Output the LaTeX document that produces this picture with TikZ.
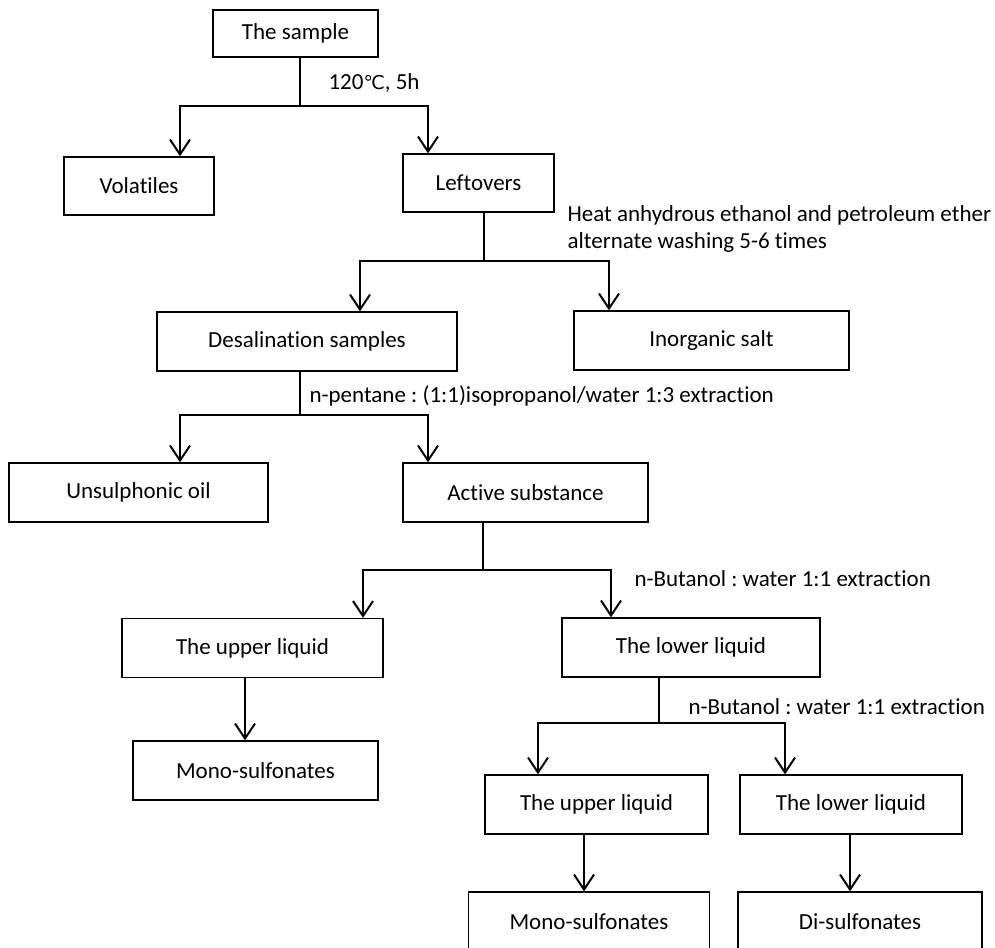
\documentclass[tikz,border=0pt]{standalone}
\usepackage{fontspec}
\setmainfont{Carlito}[Ligatures=NoCommon]
\newfontfamily\symfont{DejaVu Sans}
\usetikzlibrary{arrows.meta}
\frenchspacing

\begin{document}
\begin{tikzpicture}[
      x=1pt, y=-1pt,
      box/.style={rectangle, draw, line width=1.3pt, minimum height=59pt,
                  font=\fontsize{23}{27}\selectfont},
      note/.style={anchor=west, align=left, font=\fontsize{23}{27}\selectfont},
      link/.style={line width=2pt},
      arr/.style={line width=2pt,
                  -{Straight Barb[length=15pt, width=20pt, line width=2pt]}},
    ]
      \useasboundingbox (0,0) rectangle (995,947);

      \node[box, minimum width=165pt, minimum height=47pt] (sample) at (295.5,33.5) {The sample};
      \node[box, minimum width=150pt, minimum height=58pt] (vol)    at (139,186)    {Volatiles};
      \node[box, minimum width=151pt, minimum height=58pt] (left)   at (478.5,183)  {Leftovers};
      \node[box, minimum width=300pt] (desal)  at (307,341.5)   {Desalination samples};
      \node[box, minimum width=275pt] (salt)   at (711.5,340.5) {Inorganic salt};
      \node[box, minimum width=259pt] (oil)    at (138.5,492.5) {Unsulphonic oil};
      \node[box, minimum width=245pt] (active) at (525.5,492.5) {Active substance};
      \node[box, minimum width=261pt] (upper)  at (252.5,648)   {The upper liquid};
      \node[box, minimum width=258pt] (lower)  at (691,647.5)   {The lower liquid};
      \node[box, minimum width=245pt] (mono)   at (255.5,770.5) {Mono-sulfonates};
      \node[box, minimum width=223pt] (upperB) at (596.5,804.5) {The upper liquid};
      \node[box, minimum width=222pt] (lowerB) at (851,804.5)   {The lower liquid};
      \node[box, minimum width=241pt] (monoB)  at (589,921.5)   {Mono-sulfonates};
      \node[box, minimum width=244pt] (disulf) at (860,921.5)   {Di-sulfonates};

      \coordinate (j1) at (300,106);  \coordinate (j1l) at (180,106);  \coordinate (j1r) at (428,106);
      \coordinate (j2) at (484,261);  \coordinate (j2l) at (360,261);  \coordinate (j2r) at (609,261);
      \coordinate (j3) at (300,415);  \coordinate (j3l) at (180,415);  \coordinate (j3r) at (428,415);
      \coordinate (j4) at (483,570);  \coordinate (j4l) at (363,570);  \coordinate (j4r) at (611,570);
      \coordinate (j5) at (659,723);  \coordinate (j5l) at (538,723);  \coordinate (j5r) at (785,723);
      \coordinate (k1) at (245,700);  \coordinate (k2) at (584,860);   \coordinate (k3) at (850,860);

      \draw[link] (sample.south -| j1) -- (j1);
      \draw[arr] (j1) -- (j1l) -- (j1l |- vol.north);
      \draw[arr] (j1) -- (j1r) -- (j1r |- left.north);

      \draw[link] (left.south -| j2) -- (j2);
      \draw[arr] (j2) -- (j2l) -- (j2l |- desal.north);
      \draw[arr] (j2) -- (j2r) -- (j2r |- salt.north);

      \draw[link] (desal.south -| j3) -- (j3);
      \draw[arr] (j3) -- (j3l) -- (j3l |- oil.north);
      \draw[arr] (j3) -- (j3r) -- (j3r |- active.north);

      \draw[link] (active.south -| j4) -- (j4);
      \draw[arr] (j4) -- (j4l) -- (j4l |- upper.north);
      \draw[arr] (j4) -- (j4r) -- (j4r |- lower.north);

      \draw[arr] (upper.south -| k1) -- (mono.north -| k1);

      \draw[link] (lower.south -| j5) -- (j5);
      \draw[arr] (j5) -- (j5l) -- (j5l |- upperB.north);
      \draw[arr] (j5) -- (j5r) -- (j5r |- lowerB.north);

      \draw[arr] (upperB.south -| k2) -- (monoB.north -| k2);
      \draw[arr] (lowerB.south -| k3) -- (disulf.north -| k3);

      \node[note] (t1) at (325,83)    {120{\symfont\fontsize{19}{23}\selectfont ℃}, 5h};
      \node[note] (t2) at (564,228.5) {Heat anhydrous ethanol and petroleum ether\\alternate washing 5-6 times};
      \node[note] (t3) at (306,396)   {n-pentane : (1:1)isopropanol/water 1:3 extraction};
      \node[note] (t4) at (631,579)   {n-Butanol : water 1:1 extraction};
      \node[note] (t5) at (685,707)   {n-Butanol : water 1:1 extraction};
    \end{tikzpicture}
\end{document}
